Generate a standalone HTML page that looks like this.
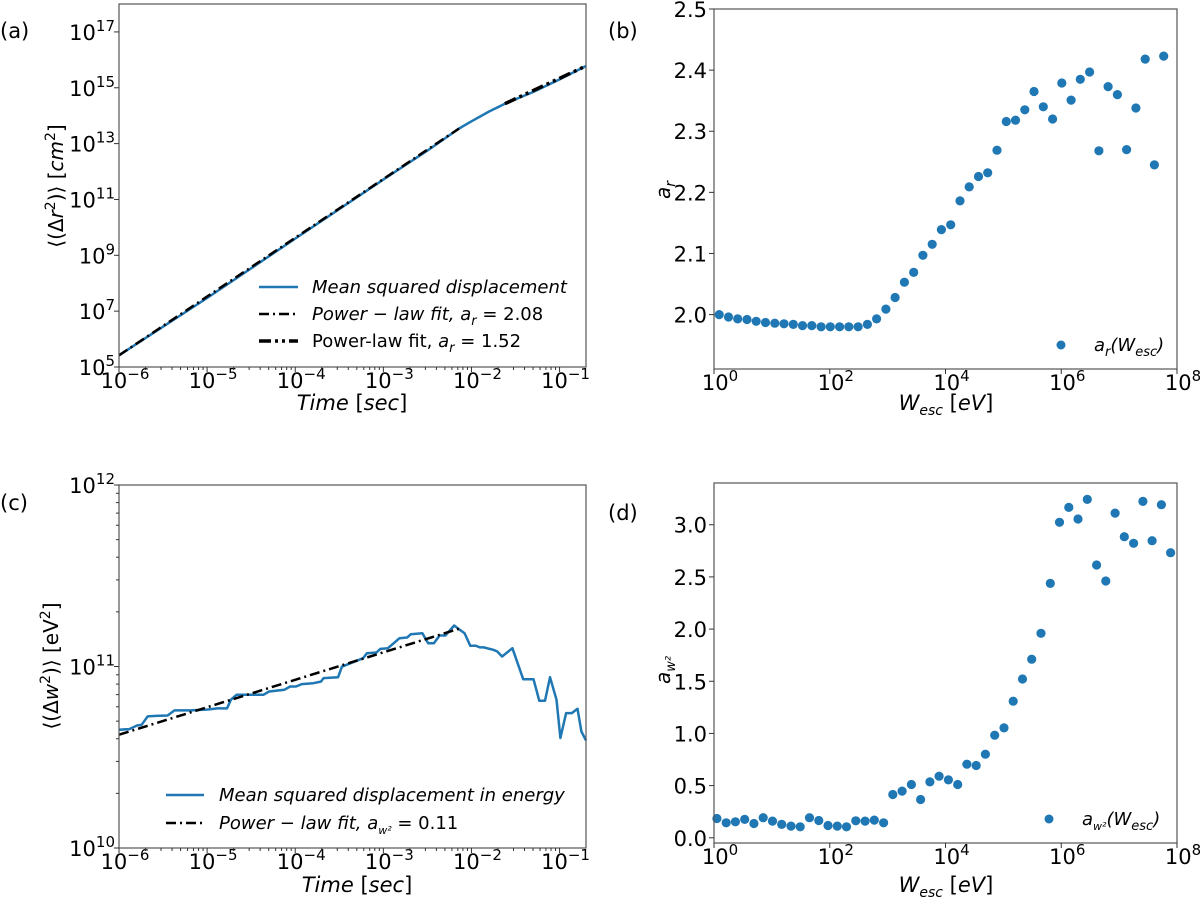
<!DOCTYPE html>
<html><head><meta charset="utf-8"><style>
html,body{margin:0;padding:0;background:#fff;}
svg{display:block;font-family:"DejaVu Sans","Liberation Sans",sans-serif;}
</style></head><body>
<svg id="fig" width="1200" height="904" viewBox="0 0 1200 904" xmlns="http://www.w3.org/2000/svg">
<text x="0" y="38" font-size="21">(a)</text>
<text x="608" y="38" font-size="21">(b)</text>
<text x="0" y="510" font-size="21">(c)</text>
<text x="608" y="520" font-size="21">(d)</text>

<text transform="translate(63,186) rotate(-90)" text-anchor="middle" font-size="20">⟨(Δ<tspan font-style="italic">r</tspan><tspan dy="-8" font-size="14">2</tspan><tspan dy="8">)⟩ [</tspan><tspan font-style="italic">cm</tspan><tspan dy="-8" font-size="14">2</tspan><tspan dy="8">]</tspan></text>
<text x="352" y="410" text-anchor="middle" font-size="21" font-style="italic">Time <tspan font-style="normal">[</tspan>sec<tspan font-style="normal">]</tspan></text>
<text transform="translate(670,190) rotate(-90)" text-anchor="middle" font-size="20" font-style="italic">a<tspan dy="5" font-size="14">r</tspan></text>
<text x="946" y="410" text-anchor="middle" font-size="21" font-style="italic">W<tspan dy="5" font-size="14">esc</tspan><tspan dy="-5" font-style="normal"> [</tspan>eV<tspan font-style="normal">]</tspan></text>
<text transform="translate(58,666) rotate(-90)" text-anchor="middle" font-size="20">⟨(Δ<tspan font-style="italic">w</tspan><tspan dy="-8" font-size="14">2</tspan><tspan dy="8">)⟩ [eV</tspan><tspan dy="-8" font-size="14">2</tspan><tspan dy="8">]</tspan></text>
<text x="357" y="892" text-anchor="middle" font-size="21" font-style="italic">Time <tspan font-style="normal">[</tspan>sec<tspan font-style="normal">]</tspan></text>
<text transform="translate(670,670) rotate(-90)" text-anchor="middle" font-size="20" font-style="italic">a<tspan dy="5" font-size="13">w²</tspan></text>
<text x="946" y="892" text-anchor="middle" font-size="21" font-style="italic">W<tspan dy="5" font-size="14">esc</tspan><tspan dy="-5" font-style="normal"> [</tspan>eV<tspan font-style="normal">]</tspan></text>

<g>
<line x1="259" y1="287" x2="298" y2="287" stroke="#1f77b4" stroke-width="2.5"/>
<text x="312" y="293" font-size="18" font-style="italic">Mean squared displacement</text>
<line x1="259" y1="314" x2="298" y2="314" stroke="#000" stroke-width="2.5" stroke-dasharray="10,4,2,4"/>
<text x="312" y="320" font-size="18"><tspan font-style="italic">Power − law fit,  a</tspan><tspan font-style="italic" dy="5" font-size="13">r</tspan><tspan dy="-5"> = 2.08</tspan></text>
<line x1="259" y1="341" x2="298" y2="341" stroke="#000" stroke-width="3.5" stroke-dasharray="12,4,3,4,3,4"/>
<text x="312" y="347" font-size="18">Power-law fit, <tspan font-style="italic">a</tspan><tspan font-style="italic" dy="5" font-size="13">r</tspan><tspan dy="-5"> = 1.52</tspan></text>
</g>
<g>
<line x1="166" y1="795" x2="204" y2="795" stroke="#1f77b4" stroke-width="2.5"/>
<text x="219" y="801" font-size="18" font-style="italic">Mean squared displacement in energy</text>
<line x1="166" y1="823" x2="204" y2="823" stroke="#000" stroke-width="2.5" stroke-dasharray="10,4,2,4"/>
<text x="219" y="829" font-size="18"><tspan font-style="italic">Power − law fit,  a</tspan><tspan font-style="italic" dy="5" font-size="11">w²</tspan><tspan dy="-5"> = 0.11</tspan></text>
</g>
<g>
<circle cx="1061" cy="345" r="4.5" fill="#1f77b4"/>
<text x="1094" y="351" font-size="18" font-style="italic">a<tspan dy="5" font-size="13">r</tspan><tspan dy="-5">(W</tspan><tspan dy="5" font-size="13">esc</tspan><tspan dy="-5">)</tspan></text>
</g>
<g>
<circle cx="1049" cy="819" r="4.5" fill="#1f77b4"/>
<text x="1082" y="825" font-size="18" font-style="italic">a<tspan dy="5" font-size="11">w²</tspan><tspan dy="-5">(W</tspan><tspan dy="5" font-size="13">esc</tspan><tspan dy="-5">)</tspan></text>
</g>
</svg>
<script>
// Panel (a): log10 time, log10 <dr^2>
const aT = [-6.0,-5.0,-4.0,-3.0,-2.5,-2.14,-2.0,-1.8,-1.62,-1.3,-1.0,-0.7];
const aR = [5.42,7.47,9.6,11.71,12.75,13.54,13.8,14.15,14.43,14.85,15.3,15.78];
const aFit1T = [-6.0,-2.14];
const aFit1R = [5.42,13.54];
const aFit2T = [-1.62,-0.7];
const aFit2R = [14.43,15.78];
// Panel (b): log10 Wesc, a_r
const bW = [0.09,0.25,0.41,0.57,0.73,0.89,1.05,1.21,1.37,1.53,1.69,1.85,2.01,2.17,2.33,2.49,2.65,2.81,2.97,3.13,3.29,3.45,3.61,3.77,3.93,4.09,4.25,4.41,4.57,4.73,4.89,5.05,5.21,5.37,5.53,5.69,5.85,6.01,6.17,6.33,6.49,6.65,6.81,6.97,7.13,7.29,7.45,7.61,7.77];
const bA = [2.000,1.996,1.993,1.992,1.989,1.987,1.986,1.985,1.984,1.982,1.982,1.980,1.980,1.980,1.980,1.980,1.984,1.993,2.009,2.028,2.053,2.069,2.097,2.115,2.139,2.147,2.186,2.209,2.226,2.232,2.269,2.316,2.318,2.335,2.365,2.340,2.320,2.379,2.351,2.385,2.397,2.268,2.373,2.360,2.270,2.338,2.418,2.245,2.423];
const bYTicks = [2.0,2.1,2.2,2.3,2.4,2.5];
// Panel (c): log10 time, log10 <dw^2>
const cT = [-6.000,-5.883,-5.796,-5.743,-5.674,-5.578,-5.448,-5.370,-5.187,-4.991,-4.883,-4.774,-4.730,-4.665,-4.491,-4.361,-4.296,-4.122,-4.057,-3.991,-3.926,-3.796,-3.709,-3.678,-3.513,-3.470,-3.230,-3.187,-3.078,-3.035,-2.948,-2.883,-2.817,-2.730,-2.687,-2.557,-2.491,-2.426,-2.361,-2.296,-2.196,-2.143,-2.078,-2.013,-1.948,-1.904,-1.861,-1.752,-1.709,-1.652,-1.535,-1.413,-1.296,-1.230,-1.165,-1.109,-1.035,-0.991,-0.926,-0.861,-0.796,-0.752,-0.700];
const cW = [10.651,10.655,10.675,10.679,10.725,10.728,10.730,10.758,10.758,10.763,10.769,10.769,10.817,10.844,10.844,10.844,10.862,10.872,10.890,10.890,10.903,10.908,10.917,10.936,10.941,10.999,11.046,11.073,11.077,11.097,11.101,11.128,11.156,11.160,11.178,11.183,11.128,11.128,11.171,11.171,11.226,11.206,11.183,11.114,11.114,11.105,11.105,11.092,11.083,11.055,11.101,10.930,10.930,10.811,10.811,10.941,10.817,10.606,10.743,10.743,10.767,10.642,10.593];
const cFitT = [-6.0,-2.12];
const cFitW = [10.624,11.211];
// Panel (d): log10 Wesc, a_w2
const dW = [0.05,0.21,0.37,0.53,0.69,0.85,1.01,1.17,1.33,1.49,1.65,1.81,1.97,2.13,2.29,2.45,2.61,2.77,2.93,3.09,3.25,3.41,3.57,3.73,3.89,4.05,4.21,4.37,4.53,4.69,4.85,5.01,5.17,5.33,5.49,5.65,5.81,5.97,6.13,6.29,6.45,6.61,6.77,6.93,7.09,7.25,7.41,7.57,7.73,7.89];
const dA = [0.185,0.144,0.153,0.176,0.137,0.192,0.160,0.128,0.112,0.105,0.192,0.166,0.118,0.112,0.105,0.163,0.160,0.169,0.144,0.415,0.447,0.511,0.367,0.536,0.590,0.555,0.511,0.705,0.693,0.801,0.983,1.053,1.309,1.522,1.711,1.960,2.438,3.023,3.166,3.055,3.243,2.614,2.461,3.112,2.885,2.822,3.224,2.847,3.192,2.732];
const dYTicks = ['0.0','0.5','1.0','1.5','2.0','2.5','3.0'];
const aYTickExp = [5,7,9,11,13,15,17];
const timeTickExp = [-6,-5,-4,-3,-2,-1];
const wTickExp = [0,2,4,6,8];
const cYTickExp = [10,11,12];

const NS='http://www.w3.org/2000/svg';
const svg=document.getElementById('fig');
function mk(tag,parent){const e=document.createElementNS(NS,tag);(parent||svg).appendChild(e);return e;}
function scale(d0,d1,p0,p1){return v=>p0+(v-d0)/(d1-d0)*(p1-p0);}

function frame(name,x0,y0,x1,y1){
  const r=mk('rect');
  r.setAttribute('x',x0);r.setAttribute('y',y0);r.setAttribute('width',x1-x0);r.setAttribute('height',y1-y0);
  r.setAttribute('fill','none');r.setAttribute('stroke','#555');r.setAttribute('stroke-width','1.2');
  
  
}
function tick(x1,y1,x2,y2,g){const l=mk('line',g);l.setAttribute('x1',x1);l.setAttribute('y1',y1);l.setAttribute('x2',x2);l.setAttribute('y2',y2);l.setAttribute('stroke','#333');l.setAttribute('stroke-width','1');return l;}
function powLabel(x,y,exp,anchor,g){
  const t=mk('text',g);t.setAttribute('x',x);t.setAttribute('y',y);t.setAttribute('text-anchor',anchor);t.setAttribute('font-size','21');
  
  
  t.appendChild(document.createTextNode('10'));
  const s=mk('tspan',t);s.setAttribute('dy','-9');s.setAttribute('font-size','15');s.textContent=(exp<0?'−':'')+Math.abs(exp);
  return t;
}
function plainLabel(x,y,txt,anchor,g){
  const t=mk('text',g);t.setAttribute('x',x);t.setAttribute('y',y);t.setAttribute('text-anchor',anchor);t.setAttribute('font-size','21');
  
  
  t.textContent=txt;
}
function logXAxis(name,sx,exps,y1,minor,lo,hi){
  const g=mk('g');
  
  
  exps.forEach(e=>{const x=sx(e);tick(x,y1,x,y1+5,g);powLabel(x+6,y1+21,e,'middle',g);});
  if(minor){for(let d=Math.floor(lo);d<hi;d++){for(let k=2;k<10;k++){const v=d+Math.log10(k);if(v>lo&&v<hi){const x=sx(v);tick(x,y1,x,y1+3,g);}}}}
}
function logYAxis(name,sy,exps,x0,minor,lo,hi){
  const g=mk('g');
  
  
  exps.forEach(e=>{const y=sy(e);tick(x0-5,y,x0,y,g);powLabel(x0-4,y+8,e,'end',g);});
  if(minor){for(let d=Math.floor(lo);d<hi;d++){for(let k=2;k<10;k++){const v=d+Math.log10(k);if(v>lo&&v<hi){const y=sy(v);tick(x0-3,y,x0,y,g);}}}}
}
function linYAxis(name,sy,vals,x0){
  const g=mk('g');
  
  
  vals.forEach(v=>{const n=parseFloat(v);const y=sy(n);tick(x0-5,y,x0,y,g);plainLabel(x0-7,y+8,(typeof v==='string')?v:n.toFixed(1),'end',g);});
}
function line(name,xs,ys,sx,sy,color,w,dash){
  const p=mk('polyline');
  p.setAttribute('points',xs.map((x,i)=>sx(x).toFixed(1)+','+sy(ys[i]).toFixed(1)).join(' '));
  p.setAttribute('fill','none');p.setAttribute('stroke',color);p.setAttribute('stroke-width',w);
  p.setAttribute('stroke-linejoin','round');
  if(dash)p.setAttribute('stroke-dasharray',dash);
  
  
}
function dots(name,xs,ys,sx,sy){
  const g=mk('g');
  
  
  xs.forEach((x,i)=>{const c=mk('circle',g);c.setAttribute('cx',sx(x).toFixed(1));c.setAttribute('cy',sy(ys[i]).toFixed(1));c.setAttribute('r','4.6');c.setAttribute('fill','#1f77b4');
    
    });
}

// Panel a
{const x0=119,x1=586,y0=4,y1=367;
 const sx=scale(-6,-0.7,x0,x1), sy=scale(5,18,y1,y0);
 line('msd-line',aT,aR,sx,sy,'#1f77b4',2.5);
 line('fit-line-208',aFit1T,aFit1R,sx,sy,'#000',2.5,'10,4,2,4');
 line('fit-line-152',aFit2T,aFit2R,sx,sy,'#000',3.5,'12,4,3,4,3,4');
 frame('panel-a-axes',x0,y0,x1,y1);
 logXAxis('panel-a-x-axis',sx,timeTickExp,y1,true,-6,-0.7);
 logYAxis('panel-a-y-axis',sy,aYTickExp,x0,false,5,18);}
// Panel b
{const x0=714,x1=1177,y0=9,y1=369;
 const sx=scale(0,8,x0,x1), sy=scale(1.911,2.5,y1,y0);
 dots('ar-points',bW,bA,sx,sy);
 frame('panel-b-axes',x0,y0,x1,y1);
 logXAxis('panel-b-x-axis',sx,wTickExp,y1,false,0,8);
 linYAxis('panel-b-y-axis',sy,bYTicks,x0);}
// Panel c
{const x0=119,x1=586,y0=485,y1=848;
 const sx=scale(-6,-0.7,x0,x1), sy=scale(10,12,y1,y0);
 line('msd-energy-line',cT,cW,sx,sy,'#1f77b4',2.5);
 line('fit-line-011',cFitT,cFitW,sx,sy,'#000',2.5,'10,4,2,4');
 frame('panel-c-axes',x0,y0,x1,y1);
 logXAxis('panel-c-x-axis',sx,timeTickExp,y1,true,-6,-0.7);
 logYAxis('panel-c-y-axis',sy,cYTickExp,x0,true,10,12);}
// Panel d
{const x0=714,x1=1177,y0=483,y1=843;
 const sx=scale(0,8,x0,x1), sy=scale(-0.05,3.40,y1,y0);
 dots('aw2-points',dW,dA,sx,sy);
 frame('panel-d-axes',x0,y0,x1,y1);
 logXAxis('panel-d-x-axis',sx,wTickExp,y1,false,0,8);
 linYAxis('panel-d-y-axis',sy,dYTicks,x0);}
</script>
</body></html>
